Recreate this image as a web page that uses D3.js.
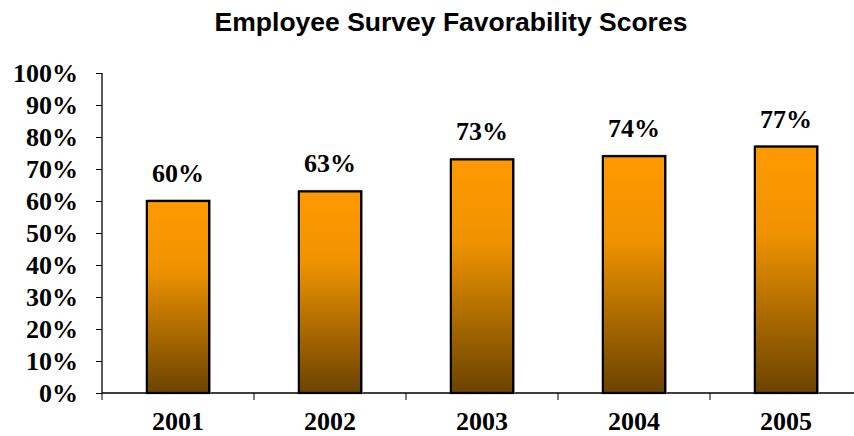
<!DOCTYPE html>
<html>
<head>
<meta charset="utf-8">
<script src="https://cdn.jsdelivr.net/npm/d3@7"></script>
<style>
  body { margin: 0; background: #fff; }
  svg { display: block; }
</style>
</head>
<body>
<svg id="chart" width="854" height="436"></svg>
<script>
// chart data
const years = ["2001", "2002", "2003", "2004", "2005"];
const scores = [60, 63, 73, 74, 77];
const yTicks = [0, 10, 20, 30, 40, 50, 60, 70, 80, 90, 100];

// plot area
const margin = { top: 73, left: 102, bottom: 43 };
const plotW = 760;
const plotH = 436 - margin.top - margin.bottom;
const serif = "'Liberation Serif', 'Times New Roman', serif";

const svg = d3.select("#chart");

// bar gradient, orange on top fading to brown
const defs = svg.append("defs");
const grad = defs.append("linearGradient")
  .attr("id", "barGrad")
  .attr("x1", 0).attr("y1", 0).attr("x2", 0).attr("y2", 1);
grad.append("stop").attr("offset", "0%").attr("stop-color", "#ff9900");
grad.append("stop").attr("offset", "35%").attr("stop-color", "#f09300");
grad.append("stop").attr("offset", "100%").attr("stop-color", "#6b4300");

// title
svg.append("text")
  .attr("x", 451)
  .attr("y", 31)
  .attr("text-anchor", "middle")
  .style("font-family", "'Liberation Sans', Arial, sans-serif")
  .style("font-size", "26.5px")
  .style("font-weight", "bold")
  .text("Employee Survey Favorability Scores");

const g = svg.append("g").attr("transform", `translate(${margin.left},${margin.top})`);

// scales
const x = d3.scaleBand().domain(years).range([0, plotW]).paddingInner(0.59).paddingOuter(0.295);
const y = d3.scaleLinear().domain([0, 100]).range([plotH, 0]);

// y axis
const yAxis = g.append("g")
  .call(d3.axisLeft(y).tickValues(yTicks).tickSize(6).tickPadding(18).tickFormat(d => d + "%"));
yAxis.select(".domain").attr("d", `M0,0V${plotH}`).attr("stroke", "#000").attr("stroke-width", 1.3);
yAxis.selectAll(".tick line").attr("stroke", "#000");
yAxis.selectAll("text")
  .style("font-family", serif)
  .style("font-size", "26px")
  .style("font-weight", "bold")
  .attr("fill", "#000");

// x axis: ticks sit between categories
const xAxis = g.append("g").attr("transform", `translate(0,${plotH})`);
xAxis.append("line")
  .attr("x1", 0).attr("x2", plotW)
  .attr("stroke", "#000").attr("stroke-width", 1.3);
const step = x.step();
xAxis.selectAll(".sep")
  .data(d3.range(years.length + 1))
  .join("line")
  .attr("class", "sep")
  .attr("x1", i => i * step).attr("x2", i => i * step)
  .attr("y1", 0).attr("y2", 7)
  .attr("stroke", "#000");
xAxis.selectAll(".lbl")
  .data(years)
  .join("text")
  .attr("class", "lbl")
  .attr("x", d => x(d) + x.bandwidth() / 2)
  .attr("y", 37)
  .attr("text-anchor", "middle")
  .style("font-family", serif)
  .style("font-size", "26px")
  .style("font-weight", "bold")
  .text(d => d);

// bars
const data = years.map((yr, i) => ({ yr, v: scores[i] }));

// soft grey shadow behind bars
g.selectAll(".shadow")
  .data(data)
  .join("rect")
  .attr("class", "shadow")
  .attr("x", d => x(d.yr) + 1)
  .attr("y", d => y(d.v) - 1)
  .attr("width", x.bandwidth())
  .attr("height", d => plotH - y(d.v) + 1)
  .attr("fill", "none")
  .attr("stroke", "#999")
  .attr("stroke-width", 1);

g.selectAll(".bar")
  .data(data)
  .join("rect")
  .attr("class", "bar")
  .attr("x", d => x(d.yr))
  .attr("y", d => y(d.v))
  .attr("width", x.bandwidth())
  .attr("height", d => plotH - y(d.v))
  .attr("fill", "url(#barGrad)")
  .attr("stroke", "#000")
  .attr("stroke-width", 2.2);

// value labels
g.selectAll(".val")
  .data(data)
  .join("text")
  .attr("class", "val")
  .attr("x", d => x(d.yr) + x.bandwidth() / 2)
  .attr("y", d => y(d.v) - 19)
  .attr("text-anchor", "middle")
  .style("font-family", serif)
  .style("font-size", "26px")
  .style("font-weight", "bold")
  .text(d => d.v + "%");
</script>
</body>
</html>
